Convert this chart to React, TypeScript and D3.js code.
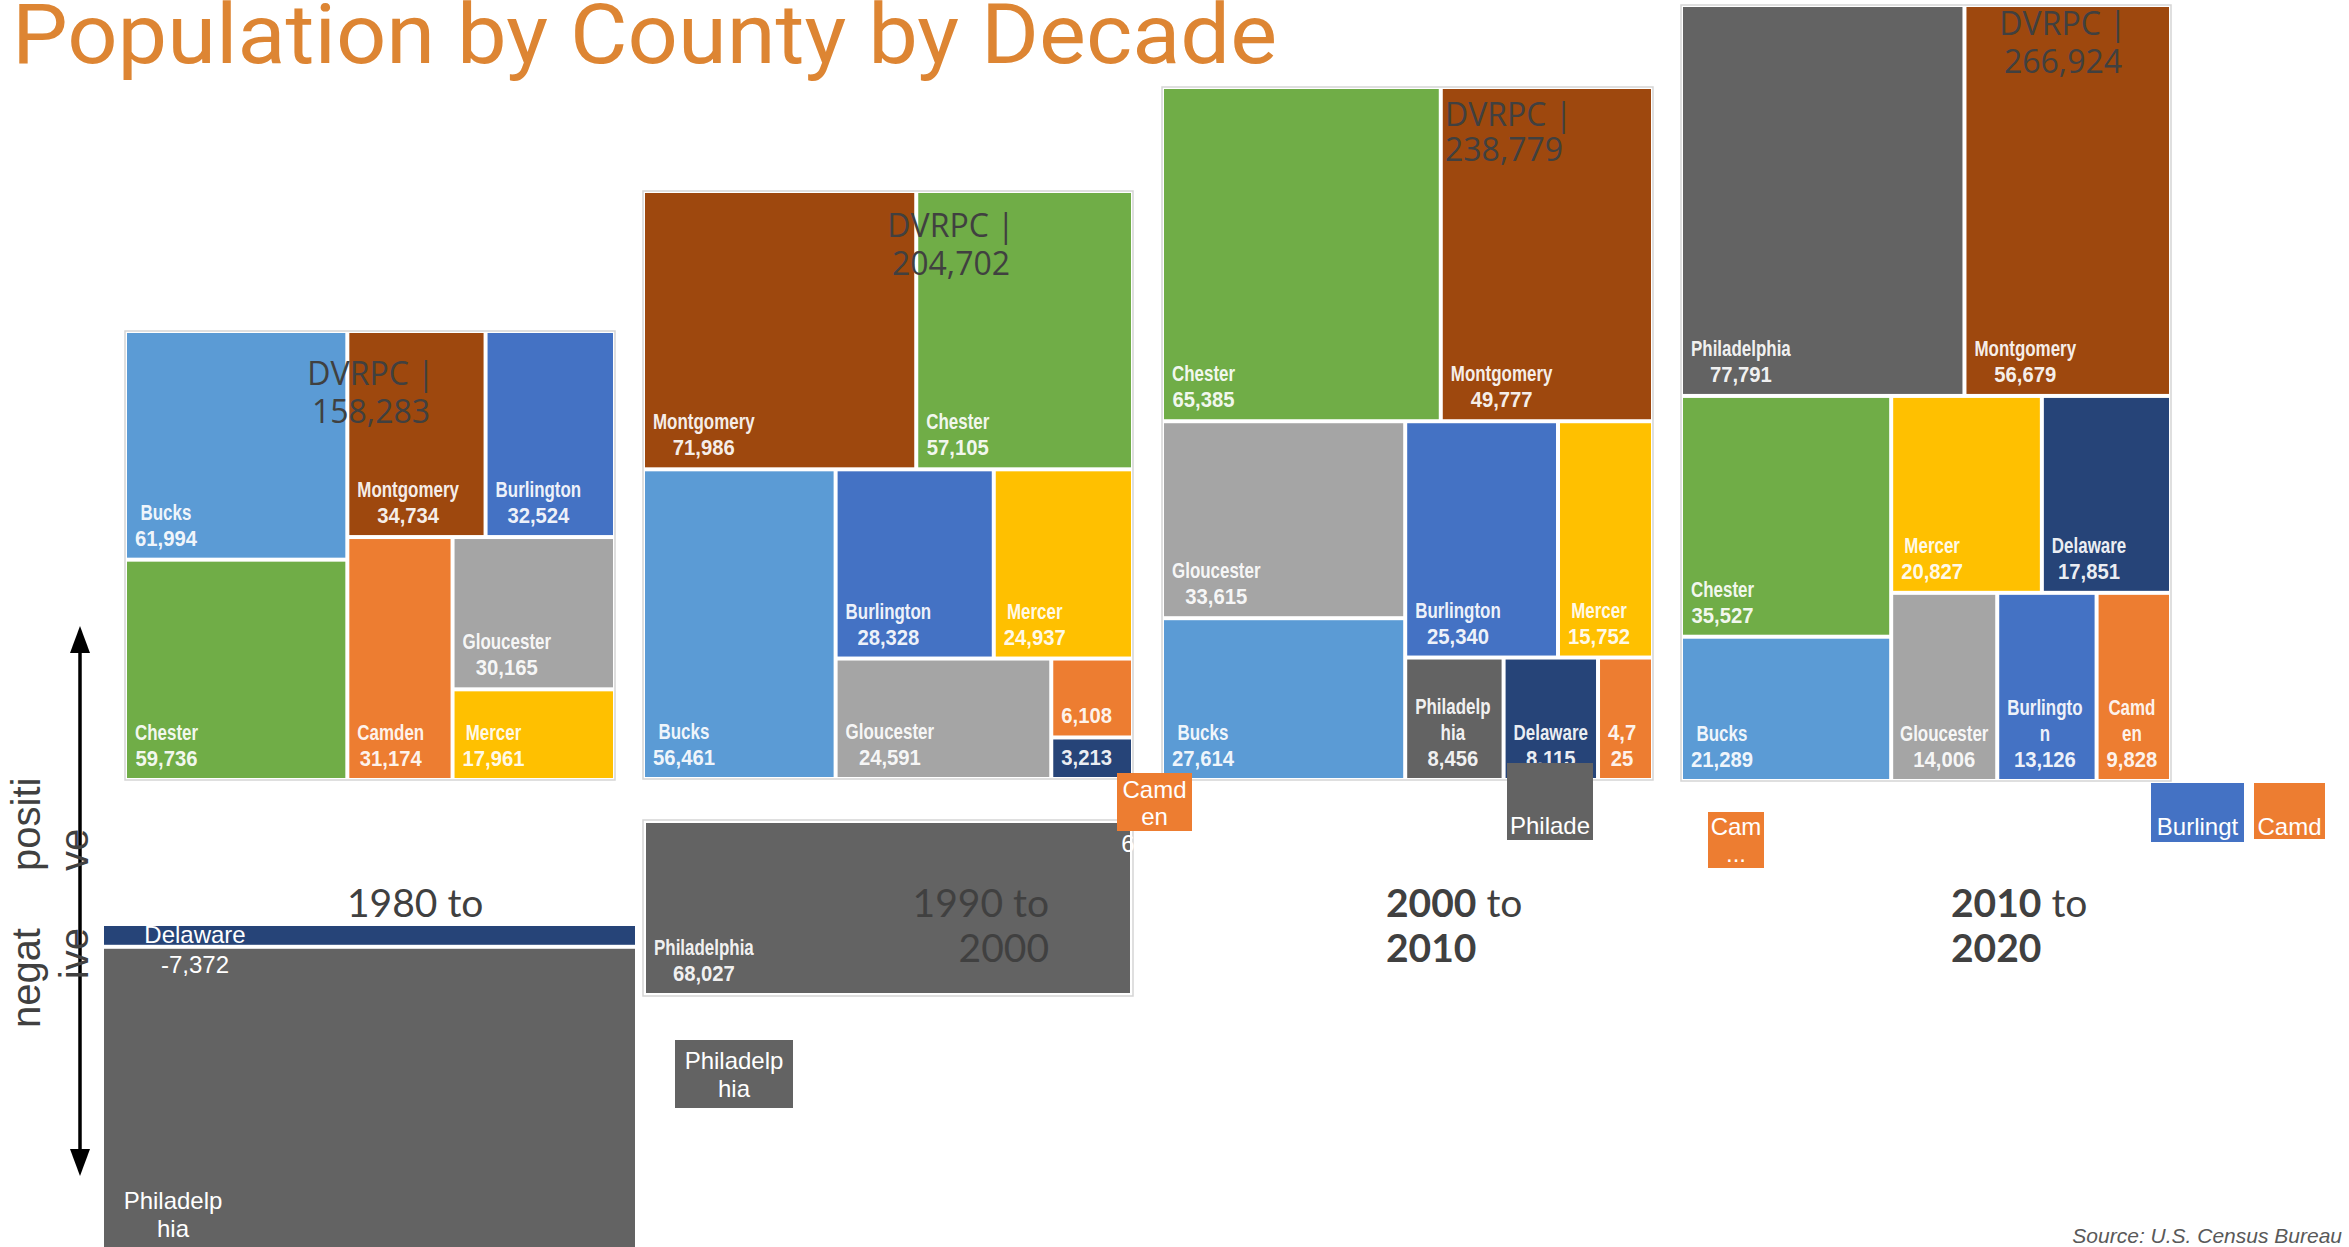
import React from "react";
import * as d3 from "d3";

// county order used by every decade array below
const counties = ["Bucks", "Chester", "Delaware", "Montgomery", "Philadelphia", "Burlington", "Camden", "Gloucester", "Mercer"];

// population change per decade (same order as counties)
const change1980s = [61994, 59736, -7372, 34734, -102633, 32524, 31174, 30165, 17961];
const change1990s = [56461, 57105, 3213, 71986, -68027, 28328, 6108, 24591, 24937];
const change2000s = [27614, 65385, 8115, 49777, 8456, 25340, 4725, 33615, 15752];
const change2010s = [21289, 35527, 17851, 56679, 77791, 13126, 9828, 14006, 20827];

const decadeStart = ["1980", "1990", "2000", "2010"];
const decadeEnd = ["1990", "2000", "2010", "2020"];

// how the spreadsheet grouped the tiles: "v" stacks children, "h" puts them side by side
const arrange1980s = ["h", ["v", "Bucks", "Chester"], ["v", ["h", "Montgomery", "Burlington"], ["h", "Camden", ["v", "Gloucester", "Mercer"]]]];
const arrange1990s = ["v", ["h", "Montgomery", "Chester"], ["h", "Bucks", ["v", ["h", "Burlington", "Mercer"], ["h", "Gloucester", ["v", "Camden", "Delaware"]]]]];
const arrange2000s = ["v", ["h", "Chester", "Montgomery"], ["h", ["v", "Gloucester", "Bucks"], ["v", ["h", "Burlington", "Mercer"], ["h", "Philadelphia", "Delaware", "Camden"]]]];
const arrange2010s = ["v", ["h", "Philadelphia", "Montgomery"], ["h", ["v", "Chester", "Bucks"], ["v", ["h", "Mercer", "Delaware"], ["h", "Gloucester", "Burlington", "Camden"]]]];

// labels as they were wrapped / shortened in the original
const labelOverrides: Record<string, string[]> = {
  "1990:Camden": ["6,108"],
  "1990:Delaware": ["3,213"],
  "2000:Philadelphia": ["Philadelp", "hia", "8,456"],
  "2000:Delaware": ["Delaware", "8.115"],
  "2000:Camden": ["4,7", "25"],
  "2010:Burlington": ["Burlingto", "n", "13,126"],
  "2010:Camden": ["Camd", "en", "9,828"],
};

const colors: Record<string, string> = {
  Bucks: "#5b9bd5",
  Chester: "#70ad47",
  Delaware: "#264478",
  Montgomery: "#9e480e",
  Philadelphia: "#636363",
  Burlington: "#4472c4",
  Camden: "#ed7d31",
  Gloucester: "#a5a5a5",
  Mercer: "#ffc000",
};

const panels = [
  {
    key: "1980", values: change1980s, arrange: arrange1980s, box: [125, 331, 615, 780],
    total: { x: 371, y: 385, anchor: "middle", gap: 38 },
    neg: ["v", "Delaware", "Philadelphia"], negBox: [104, 926, 635, 1262], negFrame: false,
    title: { x: 347, anchor: "start", bold: false, twoLines: false },
  },
  {
    key: "1990", values: change1990s, arrange: arrange1990s, box: [643, 191, 1133, 779],
    total: { x: 951, y: 237, anchor: "middle", gap: 38 },
    neg: ["v", "Philadelphia"], negBox: [643, 820, 1133, 996], negFrame: true,
    title: { x: 1049, anchor: "end", bold: false, twoLines: true },
  },
  {
    key: "2000", values: change2000s, arrange: arrange2000s, box: [1162, 87, 1653, 780],
    total: { x: 1445, y: 126, anchor: "start", gap: 35 },
    neg: null, negBox: null, negFrame: false,
    title: { x: 1386, anchor: "start", bold: true, twoLines: true },
  },
  {
    key: "2010", values: change2010s, arrange: arrange2010s, box: [1681, 5, 2171, 781],
    total: { x: 2063, y: 35, anchor: "middle", gap: 38 },
    neg: null, negBox: null, negFrame: false,
    title: { x: 1951, anchor: "start", bold: true, twoLines: true },
  },
];

const SANS = "'Liberation Sans', Arial, sans-serif";
const LATO = "Lato, 'Open Sans', sans-serif";
const fmt = d3.format(",");

const measureCtx = document.createElement("canvas").getContext("2d") as CanvasRenderingContext2D;
const LABEL_SIZE = 22;
const labelFont = `bold ${LABEL_SIZE}px ${SANS}`;
const hasLetters = (s: string) => /[A-Za-z]/.test(s);
const lineWidth = (s: string) => {
  measureCtx.font = labelFont;
  const w = measureCtx.measureText(s).width;
  return w * (hasLetters(s) ? 0.77 : 0.92);
};

function layoutTreemap(arrange: any, values: number[], box: number[], inset: number) {
  const byName = new Map(counties.map((c, i) => [c, values[i]]));
  const toNode = (a: any): any =>
    typeof a === "string"
      ? { name: a, value: Math.abs(byName.get(a) as number), raw: byName.get(a) }
      : { dir: a[0], children: a.slice(1).map(toNode) };
  const root = d3.hierarchy(toNode(arrange)).sum((d: any) => d.value || 0);
  const w = box[2] - box[0] - 2 * inset;
  const h = box[3] - box[1] - 2 * inset;
  d3.treemap<any>()
    .tile((node: any, x0, y0, x1, y1) =>
      (node.data.dir === "v" ? d3.treemapSlice : d3.treemapDice)(node, x0, y0, x1, y1))
    .size([w, h])
    .paddingInner(4)(root);
  const ox = box[0] + inset, oy = box[1] + inset;
  return (root.leaves() as any[]).map((l) => ({
    name: l.data.name as string,
    raw: l.data.raw as number,
    x0: l.x0 + ox, y0: l.y0 + oy, x1: l.x1 + ox, y1: l.y1 + oy,
  }));
}

function CellLabel({ cell, lines }: { cell: any; lines: string[] }) {
  const widths = lines.map(lineWidth);
  const maxW = d3.max(widths) ?? 0;
  const w = cell.x1 - cell.x0;
  const cx = maxW + 16 <= w ? cell.x0 + 8 + maxW / 2 : (cell.x0 + cell.x1) / 2;
  return (
    <g>
      {lines.map((l, i) => (
        <text
          key={i}
          x={cx}
          y={cell.y1 - 12 - (lines.length - 1 - i) * 26}
          textAnchor="middle"
          fontFamily={SANS}
          fontWeight="bold"
          fontSize={LABEL_SIZE}
          fill="#ffffff"
          fillOpacity={0.93}
          textLength={widths[i]}
          lengthAdjust="spacingAndGlyphs"
        >
          {l}
        </text>
      ))}
    </g>
  );
}

// plain text labels that sat on the 1980s negative tiles
const plainNegLabels: Record<string, { lines: string[]; dx: number; dy: number; gap: number }> = {
  "1980:Delaware": { lines: ["Delaware", "-7,372"], dx: 91, dy: 17, gap: 30 },
  "1980:Philadelphia": { lines: ["Philadelp", "hia"], dx: 69, dy: 260, gap: 28 },
};

// stray overflow labels left over from the slide
const strayLabels = [
  { county: "Camden", lines: ["Camd", "en"], box: [1117, 773, 1192, 831], base: 798, gap: 27 },
  { county: "Philadelphia", lines: ["Philadelp", "hia"], box: [675, 1040, 793, 1108], base: 1069, gap: 28 },
  { county: "Philadelphia", lines: ["Philade"], box: [1507, 763, 1593, 840], base: 834, gap: 27 },
  { county: "Camden", lines: ["Cam", "..."], box: [1708, 812, 1764, 868], base: 835, gap: 27 },
  { county: "Burlington", lines: ["Burlingt"], box: [2151, 783, 2244, 842], base: 835, gap: 27 },
  { county: "Camden", lines: ["Camd"], box: [2254, 783, 2325, 839], base: 835, gap: 27 },
];

function DecadeTitle({ p, i }: { p: any; i: number }) {
  const t = p.title;
  const yw = t.bold ? 700 : 400;
  return (
    <g fontFamily={LATO} fontSize={39} fill="#404040">
      <text x={t.x} y={917} textAnchor={t.anchor}>
        <tspan fontWeight={yw}>{decadeStart[i]}</tspan>
        <tspan fontWeight={400}> to</tspan>
      </text>
      {t.twoLines && (
        <text x={t.x} y={962} textAnchor={t.anchor} fontWeight={yw}>
          {decadeEnd[i]}
        </text>
      )}
    </g>
  );
}

export default function App() {
  const W = 2349, H = 1247;

  const built = panels.map((p) => ({
    p,
    cells: layoutTreemap(p.arrange, p.values, p.box, 2),
    negCells: p.neg ? layoutTreemap(p.neg, p.values, p.negBox as number[], p.negFrame ? 3 : 0) : [],
    total: d3.sum(p.values),
  }));

  const renderRects = (cells: any[], key: string) =>
    cells.map((c) => (
      <rect key={`${key}:${c.name}`} x={c.x0} y={c.y0} width={c.x1 - c.x0} height={c.y1 - c.y0} fill={colors[c.name]} />
    ));

  const renderLabels = (cells: any[], key: string, plain: boolean) =>
    cells.map((c) => {
      const id = `${key}:${c.name}`;
      const plainLabel = plainNegLabels[id];
      if (plain && plainLabel) {
        return (
          <g key={id}>
            {plainLabel.lines.map((l, j) => (
              <text key={j} x={c.x0 + plainLabel.dx} y={c.y0 + plainLabel.dy + j * plainLabel.gap}
                textAnchor="middle" fontFamily={SANS} fontSize={24} fill="#ffffff">
                {l}
              </text>
            ))}
          </g>
        );
      }
      return <CellLabel key={id} cell={c} lines={labelOverrides[id] ?? [c.name, fmt(Math.abs(c.raw))]} />;
    });

  return (
    <div style={{ position: "absolute", left: 0, top: 0 }}>
      <svg width={W} height={H} style={{ display: "block", background: "#ffffff" }}>
        <text x={12} y={63} fontFamily="Roboto, 'Liberation Sans', sans-serif" fontSize={84}
          fill="#dd8533" textLength={1265} lengthAdjust="spacingAndGlyphs">
          Population by County by Decade
        </text>

        {/* positive / negative axis */}
        <line x1={80} x2={80} y1={648} y2={1154} stroke="#000" strokeWidth={3.5} />
        <polygon points="80,626 70,653 90,653" fill="#000" />
        <polygon points="80,1176 70,1149 90,1149" fill="#000" />

        {/* 1980s title sits behind the negative tiles */}
        <DecadeTitle p={panels[0]} i={0} />

        {built.map(({ p, cells, negCells, total }) => (
          <g key={p.key}>
            <rect x={p.box[0]} y={p.box[1]} width={p.box[2] - p.box[0]} height={p.box[3] - p.box[1]}
              fill="#fff" stroke="#d5d5d5" strokeWidth={1.5} />
            {renderRects(cells, p.key)}
            {renderLabels(cells, p.key, false)}
            <g fontFamily="'Open Sans', 'Liberation Sans', sans-serif" fontSize={32} fill="#404040" textAnchor={p.total.anchor}>
              <text x={p.total.x} y={p.total.y}>DVRPC |</text>
              <text x={p.total.x} y={p.total.y + p.total.gap}>{fmt(total)}</text>
            </g>
            {p.negBox && p.negFrame && (
              <rect x={p.negBox[0]} y={p.negBox[1]} width={p.negBox[2] - p.negBox[0]} height={p.negBox[3] - p.negBox[1]}
                fill="#fff" stroke="#d5d5d5" strokeWidth={1.5} />
            )}
            {renderRects(negCells, p.key)}
            {renderLabels(negCells, p.key, true)}
          </g>
        ))}

        {panels.slice(1).map((p, k) => (
          <DecadeTitle key={p.key} p={p} i={k + 1} />
        ))}

        {/* stray overflow labels */}
        {strayLabels.map((s, i) => (
          <g key={i}>
            <rect x={s.box[0]} y={s.box[1]} width={s.box[2] - s.box[0]} height={s.box[3] - s.box[1]} fill={colors[s.county]} />
            {s.lines.map((l, j) => (
              <text key={j} x={(s.box[0] + s.box[2]) / 2} y={s.base + j * s.gap} textAnchor="middle"
                fontFamily={SANS} fontSize={24} fill="#ffffff">
                {l}
              </text>
            ))}
          </g>
        ))}
        <text x={1128} y={852} textAnchor="middle" fontFamily={SANS} fontSize={24} fill="#ffffff">6</text>

        {/* axis words */}
        <g fontFamily={SANS} fontSize={40} fill="#404040">
          <g transform="translate(40,871) rotate(-90)">
            <text x={0} y={0}>positi</text>
            <text x={0} y={48}>ve</text>
          </g>
          <g transform="translate(40,928) rotate(-90)" textAnchor="end">
            <text x={0} y={0}>negat</text>
            <text x={0} y={48}>ive</text>
          </g>
        </g>

        <text x={2342} y={1243} textAnchor="end" fontFamily={SANS} fontStyle="italic" fontSize={21} fill="#595959">
          Source: U.S. Census Bureau
        </text>
      </svg>
    </div>
  );
}
